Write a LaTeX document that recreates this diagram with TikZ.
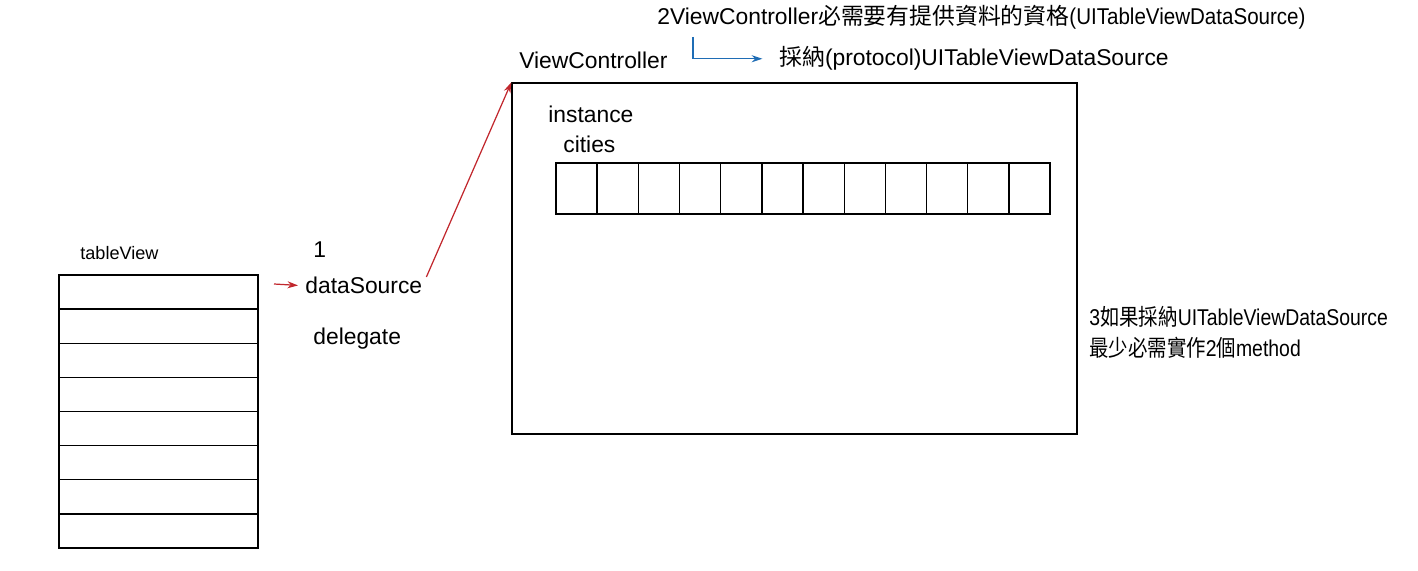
\documentclass[tikz,border=0pt]{standalone}
\usepackage{fontspec}
\usepackage{graphicx}
\setmainfont{Liberation Sans}
\newfontfamily\cjk{Noto Sans CJK TC}
\newcommand{\zh}[1]{{\cjk #1}}
\definecolor{linkRed}{HTML}{C1272D}
\definecolor{linkBlue}{HTML}{1F6DB5}
\usetikzlibrary{positioning,arrows.meta}

\begin{document}
\begin{tikzpicture}[x=0.02cm, y=-0.02cm, font=\fontsize{13pt}{15pt}\selectfont,
  label/.style={anchor=base west, inner sep=0pt},
  row/.style={draw, line width=0.8pt, inner sep=0pt, minimum width=3.98cm, minimum height=0.6825cm},
  cell/.style={draw, line width=0.8pt, inner sep=0pt, minimum width=0.8233cm, minimum height=1.02cm},
  redlink/.style={-{Stealth[length=6pt,width=4pt]}, linkRed, line width=0.7pt},
  bluelink/.style={-{Stealth[length=6pt,width=4pt]}, linkBlue, line width=0.7pt}]
\useasboundingbox (0,0) rectangle (1418,571);

% tableView with its rows
\node[label, font=\fontsize{10.3pt}{12pt}\selectfont] (tvlabel) at (80,259) {tableView};
\foreach \i in {1,...,8}
  \node[row] (r\i) at (158.5,{292.1+34.125*(\i-1)}) {};

% properties
\node[label] (one) at (313,257) {1};
\node[label] (ds) at (305,294) {dataSource};
\node[label] (dg) at (313,344) {delegate};

% view controller
\node[label] (vclabel) at (519,69) {ViewController};
\node[draw, line width=0.8pt, inner sep=0pt, minimum width=11.3cm, minimum height=7.02cm] (vc) at (794.5,258.5) {};
\node[label] (inst) at (548,123) {instance};
\node[label] (cities) at (563,153) {cities};
\foreach \i in {1,...,12}
  \node[cell] (c\i) at ({576.6+41.17*(\i-1)},188.5) {};

% notes
\node[label] (note2) at (657,25) {2ViewController\zh{必需要有提供資料的資格}\scalebox{0.9}[1]{(UITableViewDataSource)}};
\node[label] (adopt) at (779,66) {\zh{採納}(protocol)UITableViewDataSource};
\node[label] (note3a) at (1089,325) {\scalebox{0.85}[1]{3\zh{如果採納}UITableViewDataSource}};
\node[label] (note3b) at (1089,357) {\scalebox{0.85}[1]{\zh{最少必需實作}2\zh{個}method}};

% connectors
\coordinate (dsin) at (274,284);
\draw[redlink, shorten >=4pt] (dsin) -- (ds.west);
\draw[redlink, shorten <=5.5pt] (ds.east) -- (vc.north west);
\coordinate (b0) at (693,37);
\draw[bluelink, shorten >=9.5pt] (b0) |- (adopt.west);
\end{tikzpicture}
\end{document}
